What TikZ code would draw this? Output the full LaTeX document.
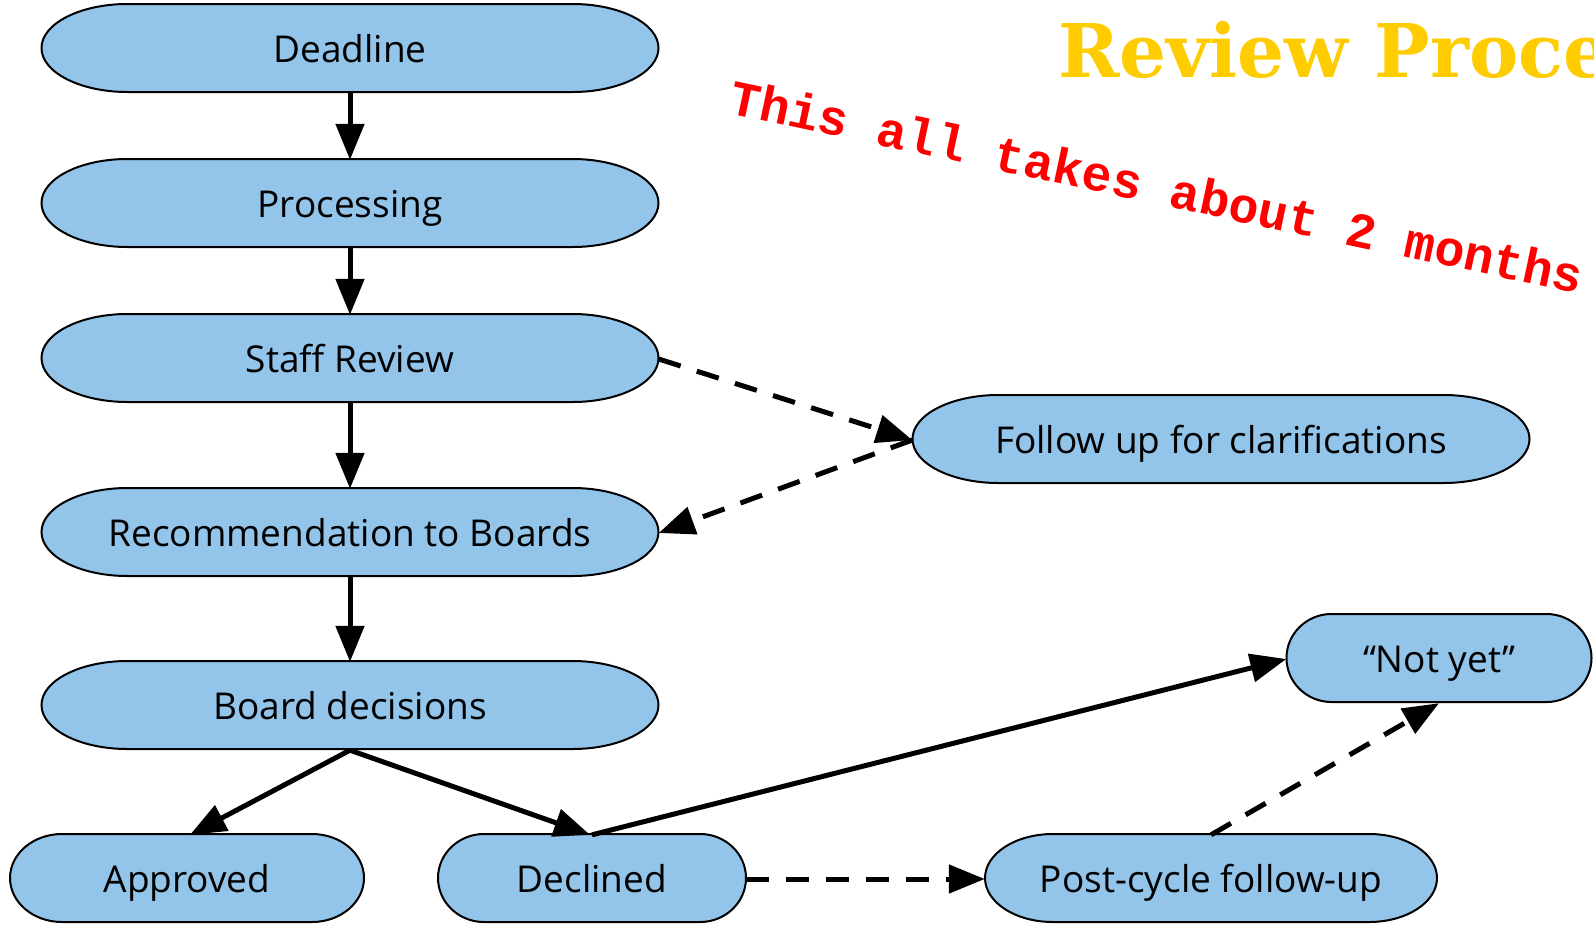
\documentclass[tikz,border=0pt]{standalone}
\usepackage{fontspec}
\setmainfont{Open Sans}
\newfontfamily\titlefont{DejaVu Serif}[BoldFont={DejaVu Serif Bold}]
\newfontfamily\redfont{Liberation Mono}[BoldFont={Liberation Mono Bold}]
\usetikzlibrary{arrows.meta}
\definecolor{pillblue}{RGB}{147,196,233}
\definecolor{titleyellow}{RGB}{255,204,0}
\tikzset{
  pillline/.style={draw=black, line width=2pt, fill=pillblue},
  pilltext/.style={inner sep=0pt, text height=27pt, text depth=0pt, font=\fontsize{37}{44}\selectfont},
  arr/.style={line width=5pt, -{Triangle[length=36pt,width=28pt]}},
  dsh/.style={arr, dash pattern=on 23pt off 17pt},
}
\newcommand\pill[6]{%
  \pgfmathsetmacro\pl{#2-#4/2+#5}%
  \pgfmathsetmacro\pr{#2+#4/2-#5}%
  \draw[pillline] (\pl,#3-44) -- (\pr,#3-44) arc[start angle=90,end angle=-90,x radius=#5pt,y radius=44pt]
     -- (\pl,#3+44) arc[start angle=270,end angle=90,x radius=#5pt,y radius=44pt] -- cycle;
  \node[pilltext, minimum width=#4pt, minimum height=88pt] (#1) at (#2,#3+1) {#6};
}
\begin{document}
\begin{tikzpicture}[x=1pt,y=-1pt]
\clip (0,0) rectangle (1594,924);
\useasboundingbox (0,0) rectangle (1594,924);
\fill[white] (0,0) rectangle (1594,924);

\pill{deadline}{350}{48}{617}{86}{Deadline}
\pill{processing}{350}{203}{617}{86}{Processing}
\pill{staff}{350}{358}{617}{86}{Staff Review}
\pill{recommendation}{350}{532}{617}{86}{Recommendation to Boards}
\pill{board}{350}{705}{617}{86}{Board decisions}
\pill{followup}{1221}{439}{617}{86}{Follow up for clarifications}
\pill{approved}{187}{878}{354}{52}{Approved}
\pill{declined}{592}{878}{308}{46}{Declined}
\pill{postcycle}{1211}{878}{452}{68}{Post-cycle follow-up}
\pill{notyet}{1439}{658}{305}{45}{“Not yet”}

\node[anchor=base west, text=titleyellow, font=\titlefont\bfseries\fontsize{74}{80}\selectfont, inner sep=0pt] (title) at (1058,77) {Review Process};
\node[rotate=-12, text=red, font=\redfont\bfseries\fontsize{50}{56}\selectfont, inner sep=0pt] (note) at (1157,186) {This all takes about 2 months};

\draw[arr] (deadline.south) -- (processing.north);
\draw[arr] (processing.south) -- (staff.north);
\draw[arr] (staff.south) -- (recommendation.north);
\draw[arr] (recommendation.south) -- (board.north);
\draw[dsh] (staff.east) -- (followup.west);
\draw[dsh] (followup.west) -- (recommendation.east);
\draw[arr] (board.south) -- ([xshift=3pt]approved.north);
\draw[arr] (board.south) -- ([xshift=-2pt]declined.north);
\draw[arr] (declined.north) -- (notyet.west);
\draw[dsh] (declined.east) -- (postcycle.west);
\draw[dsh] (postcycle.north) -- (notyet.south);
\end{tikzpicture}
\end{document}
